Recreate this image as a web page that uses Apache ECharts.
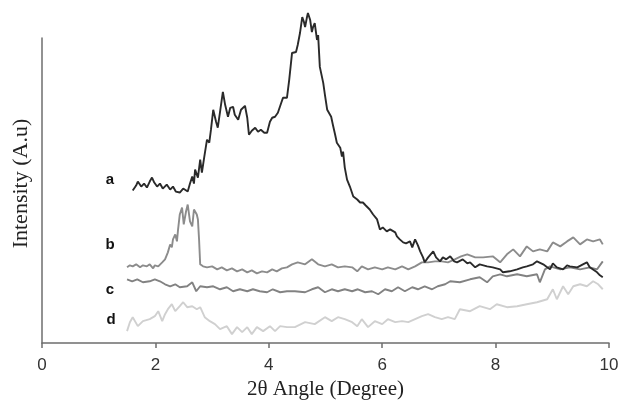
<!DOCTYPE html>
<html>
<head>
<meta charset="utf-8">
<script src="https://cdn.jsdelivr.net/npm/echarts@6/dist/echarts.min.js"></script>
<style>
  html, body { margin: 0; padding: 0; background: #fff; }
  #chart { width: 622px; height: 405px; }
</style>
</head>
<body>
<div id="chart"></div>
<script>
// x ticks
var xTicks = [0, 2, 4, 6, 8, 10];

// curve labels
var curveNames = ['a', 'b', 'c', 'd'];

// [2theta, intensity]
var curveA = [
  [1.60,153],[1.66,158],[1.69,162],[1.75,157],[1.80,160],[1.85,156],[1.90,162],[1.94,166],
  [1.98,161],[2.03,157],[2.08,160],[2.13,155],[2.20,159],[2.26,154],[2.31,157],[2.36,152],
  [2.43,151],[2.49,155],[2.52,157],[2.57,152],[2.61,160],[2.65,167],[2.68,160],[2.70,174],
  [2.75,166],[2.79,184],[2.82,171],[2.86,186],[2.91,204],[2.95,201],[2.98,214],[3.02,234],
  [3.07,222],[3.10,216],[3.14,232],[3.19,252],[3.23,239],[3.28,227],[3.32,236],[3.37,237],
  [3.40,229],[3.46,224],[3.51,234],[3.58,238],[3.62,226],[3.65,209],[3.70,213],[3.76,216],
  [3.81,212],[3.86,214],[3.92,211],[3.97,211],[4.02,222],[4.06,226],[4.11,227],[4.16,231],
  [4.22,241],[4.25,246],[4.32,246],[4.36,264],[4.41,291],[4.44,292],[4.48,292],[4.51,299],
  [4.55,311],[4.59,327],[4.62,322],[4.64,317],[4.67,326],[4.69,331],[4.73,324],[4.76,312],
  [4.78,317],[4.81,321],[4.85,304],[4.87,309],[4.90,277],[4.96,261],[4.99,249],[5.03,234],
  [5.06,236],[5.10,227],[5.13,219],[5.17,209],[5.20,201],[5.26,196],[5.29,187],[5.31,192],
  [5.34,176],[5.38,164],[5.43,157],[5.49,147],[5.56,144],[5.61,141],[5.66,141],[5.71,138],
  [5.78,134],[5.84,129],[5.91,124],[5.96,114],[6.01,116],[6.08,112],[6.14,114],[6.17,116],
  [6.23,111],[6.26,107],[6.31,104],[6.37,101],[6.42,100],[6.49,102],[6.53,96],[6.58,104],
  [6.63,98],[6.67,92],[6.72,86],[6.75,81],[6.81,86],[6.84,88],[6.90,92],[6.95,86],
  [7.02,82],[7.07,86],[7.13,84],[7.20,87],[7.27,82],[7.32,81],[7.42,84],[7.50,80],
  [7.55,81],[7.64,76],[7.72,79],[7.85,77],[7.95,76],[8.08,74],[8.13,71],[8.25,72],
  [8.38,74],[8.48,76],[8.55,77],[8.66,79],[8.73,82],[8.84,79],[8.91,76],[8.96,74],
  [9.01,80],[9.08,76],[9.19,74],[9.26,78],[9.31,77],[9.44,76],[9.54,79],[9.61,81],
  [9.66,76],[9.79,71],[9.84,68],[9.89,66]
];

var curveB = [
  [1.50,76],[1.55,78],[1.60,77],[1.66,79],[1.73,76],[1.78,78],[1.85,77],[1.90,79],
  [1.96,75],[1.99,78],[2.05,77],[2.12,81],[2.17,84],[2.22,91],[2.26,99],[2.29,96],
  [2.31,104],[2.35,109],[2.38,102],[2.40,114],[2.43,129],[2.47,136],[2.50,119],[2.54,132],
  [2.57,139],[2.61,122],[2.65,117],[2.68,134],[2.70,136],[2.73,129],[2.75,124],[2.77,104],
  [2.79,79],[2.84,77],[2.91,76],[3.00,77],[3.09,74],[3.17,76],[3.26,73],[3.35,75],
  [3.44,72],[3.53,74],[3.62,71],[3.70,73],[3.79,70],[3.88,72],[3.97,71],[4.06,74],
  [4.14,72],[4.23,75],[4.32,76],[4.41,79],[4.51,81],[4.64,79],[4.76,84],[4.87,79],
  [4.99,77],[5.11,79],[5.22,76],[5.34,77],[5.47,76],[5.56,72],[5.64,77],[5.75,74],
  [5.87,76],[6.00,74],[6.10,76],[6.23,74],[6.35,77],[6.46,74],[6.58,77],[6.70,81],
  [6.81,81],[6.93,82],[7.05,82],[7.16,81],[7.28,84],[7.39,87],[7.50,89],[7.64,86],
  [7.78,86],[7.95,87],[8.08,81],[8.20,89],[8.31,94],[8.43,87],[8.55,97],[8.66,92],
  [8.78,94],[8.91,92],[9.01,101],[9.14,97],[9.26,102],[9.37,106],[9.49,99],[9.61,104],
  [9.72,102],[9.84,104],[9.89,99]
];

var curveC = [
  [1.50,64],[1.59,62],[1.68,64],[1.78,61],[1.90,62],[1.99,64],[2.08,62],[2.17,59],
  [2.26,57],[2.35,59],[2.43,56],[2.56,57],[2.65,61],[2.72,52],[2.79,57],[2.91,56],
  [3.02,57],[3.14,54],[3.26,56],[3.37,52],[3.49,54],[3.62,52],[3.72,54],[3.84,52],
  [3.97,51],[4.07,54],[4.20,51],[4.32,52],[4.46,52],[4.64,51],[4.76,54],[4.87,56],
  [4.99,51],[5.11,54],[5.22,52],[5.34,54],[5.47,52],[5.57,54],[5.70,51],[5.82,52],
  [5.93,49],[6.05,54],[6.17,52],[6.28,56],[6.40,52],[6.53,56],[6.63,54],[6.75,57],
  [6.88,54],[6.98,57],[7.11,59],[7.20,62],[7.37,61],[7.55,64],[7.72,66],[7.85,61],
  [7.95,67],[8.08,69],[8.20,67],[8.38,69],[8.55,67],[8.73,69],[8.78,61],[8.87,74],
  [8.96,77],[9.14,74],[9.31,76],[9.49,74],[9.66,76],[9.79,74],[9.89,82]
];

var curveD = [
  [1.50,12],[1.55,21],[1.60,26],[1.69,17],[1.78,22],[1.90,24],[1.99,27],[2.05,32],
  [2.12,22],[2.17,29],[2.22,34],[2.29,39],[2.35,32],[2.43,37],[2.49,41],[2.56,36],
  [2.65,37],[2.73,34],[2.79,36],[2.87,26],[2.96,22],[3.05,19],[3.14,14],[3.26,17],
  [3.35,9],[3.44,16],[3.53,11],[3.62,16],[3.70,9],[3.79,16],[3.90,12],[4.02,17],
  [4.11,12],[4.20,17],[4.32,16],[4.46,16],[4.64,21],[4.81,19],[4.99,26],[5.11,22],
  [5.22,26],[5.34,24],[5.47,21],[5.56,17],[5.64,24],[5.75,16],[5.87,22],[6.00,19],
  [6.10,24],[6.23,21],[6.35,22],[6.46,21],[6.58,24],[6.70,27],[6.81,29],[6.93,26],
  [7.05,24],[7.16,26],[7.28,24],[7.37,34],[7.55,32],[7.72,37],[7.90,34],[8.02,39],
  [8.20,36],[8.38,37],[8.55,39],[8.73,41],[8.91,44],[9.01,54],[9.08,44],[9.19,57],
  [9.28,49],[9.37,57],[9.49,59],[9.61,57],[9.72,62],[9.81,59],[9.89,54]
];

var chart = echarts.init(document.getElementById('chart'), null, { renderer: 'canvas' });

var axisColor = '#6e6e6e';
var serif = '"Liberation Serif", "Times New Roman", serif';

function line(data, color, z) {
  return {
    type: 'line',
    data: data,
    showSymbol: false,
    clip: false,
    z: z,
    lineStyle: { color: color, width: 1.9 },
    itemStyle: { color: color }
  };
}

var labelPos = [[110, 180], [110, 245], [110, 290], [111, 320]];

var option = {
  animation: false,
  backgroundColor: '#fff',
  grid: { left: 42, right: 13, top: 38, bottom: 61 },
  xAxis: {
    type: 'value',
    min: xTicks[0],
    max: xTicks[xTicks.length - 1],
    interval: 2,
    name: '2\u03b8 Angle (Degree)',
    nameLocation: 'middle',
    nameGap: 34,
    nameTextStyle: { fontFamily: serif, fontSize: 21, color: '#222' },
    axisLine: { lineStyle: { color: axisColor, width: 1.5 } },
    axisTick: { show: true, inside: false, length: 5, lineStyle: { color: axisColor, width: 1.5 } },
    axisLabel: { margin: 14, fontFamily: '"Liberation Sans Narrow", "Liberation Sans", Arial, sans-serif', fontSize: 17, color: '#333' },
    splitLine: { show: false }
  },
  yAxis: {
    type: 'value',
    min: 0,
    max: 306,
    name: 'Intensity (A.u)',
    nameLocation: 'middle',
    nameGap: 10,
    nameTextStyle: { fontFamily: serif, fontSize: 22, color: '#222', padding: [0, 0, 0, 14] },
    axisLine: { show: true, lineStyle: { color: axisColor, width: 1.5 } },
    axisTick: { show: false },
    axisLabel: { show: false },
    splitLine: { show: false }
  },
  graphic: curveNames.map(function (n, i) {
    return {
      type: 'text',
      x: labelPos[i][0],
      y: labelPos[i][1],
      style: {
        text: n,
        font: 'bold 15px "Liberation Sans", Arial, sans-serif',
        fill: '#111',
        align: 'center',
        verticalAlign: 'middle'
      }
    };
  }),
  series: [
    line(curveD, '#d0d0d0', 1),
    line(curveC, '#828282', 2),
    line(curveB, '#8c8c8c', 3),
    line(curveA, '#2a2a2a', 4)
  ]
};

chart.setOption(option);
</script>
</body>
</html>
